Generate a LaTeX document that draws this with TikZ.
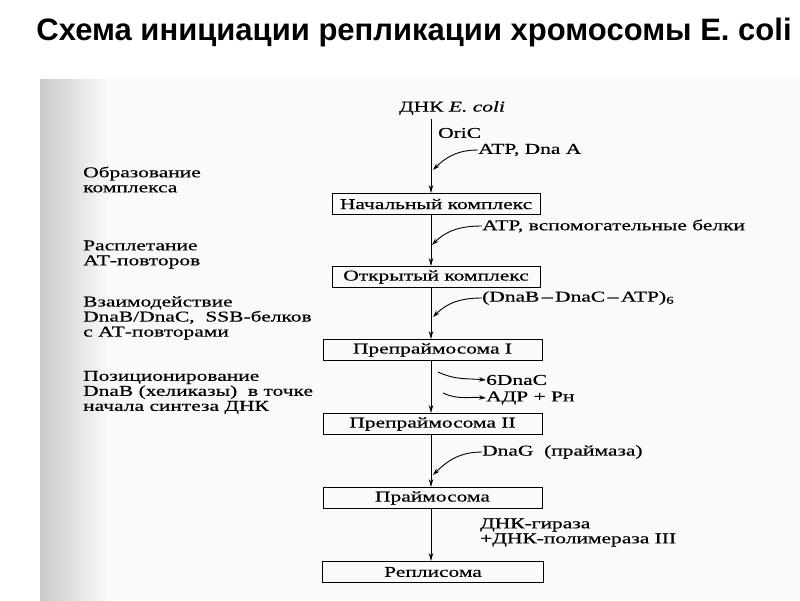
\documentclass[tikz,border=0pt]{standalone}
\usepackage{fontspec}
\setmainfont{Liberation Serif}
\newfontfamily\scanfont[FakeStretch=1.43, FakeBold=0.5]{Liberation Serif}
\newfontfamily\titlefont{Liberation Sans}
\usetikzlibrary{positioning, arrows.meta}

\begin{document}
\begin{tikzpicture}[
    x=1pt, y=-1pt,
    txt/.style={inner sep=0pt, font=\scanfont\fontsize{15}{15}\selectfont},
    side/.style={txt, align=left, anchor=west},
    note/.style={txt, anchor=west},
    box/.style={txt, rectangle, draw, line width=1pt, minimum height=21pt},
    arrow/.style={-{Stealth[length=8pt, width=4.5pt]}, line width=0.9pt},
    feed/.style={-{Stealth[length=7pt, width=4.5pt]}, line width=0.9pt},
]
\useasboundingbox (0,0) rectangle (800,600);

%% BACKGROUND
    % scanned page
    \fill[gray!4] (40,79) rectangle (800,600);
    \shade[left color=gray!42, right color=gray!4] (40,79) rectangle (108,600);

%% NODES
    % title
    \node[font=\titlefont\bfseries\fontsize{31}{34}\selectfont] (title) at (414,32) {Схема инициации репликации хромосомы E. coli};

    % main chain
    \coordinate (spine) at (431,0);
    \node[txt, inner sep=4pt] (dna) at (452,108) {ДНК \textit{E. coli}};
    \node[box, minimum width=208pt] (start) at (436,204) {Начальный комплекс};
    \node[box, minimum width=208pt] (open) at (436,277) {Открытый комплекс};
    \node[box, minimum width=219pt] (pre1) at (432.5,350) {Препраймосома I};
    \node[box, minimum width=219pt] (pre2) at (432.5,424) {Препраймосома II};
    \node[box, minimum width=219pt] (prim) at (432.5,498) {Праймосома};
    \node[box, minimum width=221pt] (repl) at (433,572) {Реплисома};

    % factors on the right
    \node[note] (oric) at (438,133) {OriC};
    \node[note] (atpa) at (478,150) {ATP, Dna A};
    \node[note] (atpb) at (482,226) {ATP, вспомогательные белки};
    \node[note] (dnab) at (482,298) {(DnaB\,–\,DnaC\,–\,ATP)\textsubscript{6}};
    \node[note] (dnac) at (486,380) {6DnaC};
    \node[note] (adp) at (486,398) {АДР + Рн};
    \node[note] (dnag) at (482,452) {DnaG\ \ (праймаза)};
    \node[side] (gyr) at (480,532.5) {ДНК-гираза\\+ДНК-полимераза III};

    % steps on the left
    \node[side] (form) at (83,179.5) {Образование\\комплекса};
    \node[side] (unwind) at (83,254.5) {Расплетание\\АТ-повторов};
    \node[side] (bind) at (83,318) {Взаимодействие\\DnaB/DnaC,\ \ SSB-белков\\с АТ-повторами};
    \node[side] (place) at (83,392.5) {Позиционирование\\DnaB (хеликазы)\ \ в точке\\начала синтеза ДНК};

    % arrow ends on the spine
    \coordinate (in1) at (433,170);
    \coordinate (in2) at (432,245);
    \coordinate (in3) at (433,317);
    \coordinate (out1) at (438,372);
    \coordinate (out2) at (443,393);
    \coordinate (in4) at (433,475);

%% ARROWS
    \draw[arrow] (dna.south -| spine) -- (start.north -| spine);
    \draw[arrow] (start.south -| spine) -- (open.north -| spine);
    \draw[arrow] (open.south -| spine) -- (pre1.north -| spine);
    \draw[arrow] (pre1.south -| spine) -- (pre2.north -| spine);
    \draw[arrow] (pre2.south -| spine) -- (prim.north -| spine);
    \draw[arrow] (prim.south -| spine) -- (repl.north -| spine);

    \draw[feed] (atpa.west) to[out=180, in=45] (in1);
    \draw[feed] (atpb.west) to[out=180, in=45] (in2);
    \draw[feed] (dnab.west) to[out=180, in=45] (in3);
    \draw[feed] (out1) to[out=-25, in=175] (dnac.west);
    \draw[feed] (out2) to[out=-25, in=175] (adp.west);
    \draw[feed] (dnag.west) to[out=180, in=45] (in4);

\end{tikzpicture}
\end{document}
